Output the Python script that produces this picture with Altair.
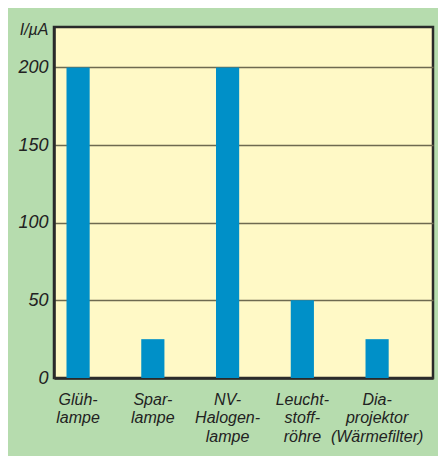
import altair as alt
import pandas as pd

categories = ["Glüh-|lampe", "Spar-|lampe", "NV-|Halogen-|lampe", "Leucht-|stoff-|röhre", "Dia-|projektor|(Wärmefilter)"]
values = [200, 25, 200, 50, 25]
y_ticks = [0, 50, 100, 150, 200]

df = pd.DataFrame({"lamp": categories, "current": values})

font = "Liberation Sans"

chart = alt.Chart(df).mark_bar(color="#0090c8").encode(
    x=alt.X(
        "lamp:N",
        sort=categories,
        scale=alt.Scale(paddingInner=0.69, paddingOuter=0.38, align=0.22),
        axis=alt.Axis(
            title=None,
            labelAngle=0,
            labelExpr="split(datum.label, '|')",
            labelFont=font,
            labelFontStyle="italic",
            labelFontSize=16,
            labelColor="#222222",
            labelLineHeight=18.5,
            labelPadding=13,
            labelBaseline="top",
            ticks=False,
            domainColor="#2a2a2a",
            domainWidth=2.5,
            grid=False,
        ),
    ),
    y=alt.Y(
        "current:Q",
        scale=alt.Scale(domain=[0, 226], nice=False),
        axis=alt.Axis(
            title="I/µA",
            titleAngle=0,
            titleAlign="right",
            titleBaseline="alphabetic",
            titleX=-6,
            titleY=7,
            titleFont=font,
            titleFontStyle="italic",
            titleFontWeight="normal",
            titleFontSize=16,
            titleColor="#222222",
            values=y_ticks,
            labelFont=font,
            labelFontStyle="italic",
            labelFontSize=18,
            labelColor="#222222",
            labelPadding=6,
            ticks=False,
            domainColor="#2a2a2a",
            domainWidth=2.5,
            grid=True,
            gridColor="#6e6a50",
            gridWidth=1.5,
        ),
    ),
).properties(
    width=379,
    height=351,
    background="#b6dcae",
    padding={"left": 46, "top": 19, "right": 5, "bottom": 78},
    autosize=alt.AutoSizeParams(type="none"),
).configure_view(
    fill="#fff9c6",
    stroke="#2a2a2a",
    strokeWidth=2.5,
)

chart.save("out.html", embed_options={"renderer": "svg", "actions": False})
